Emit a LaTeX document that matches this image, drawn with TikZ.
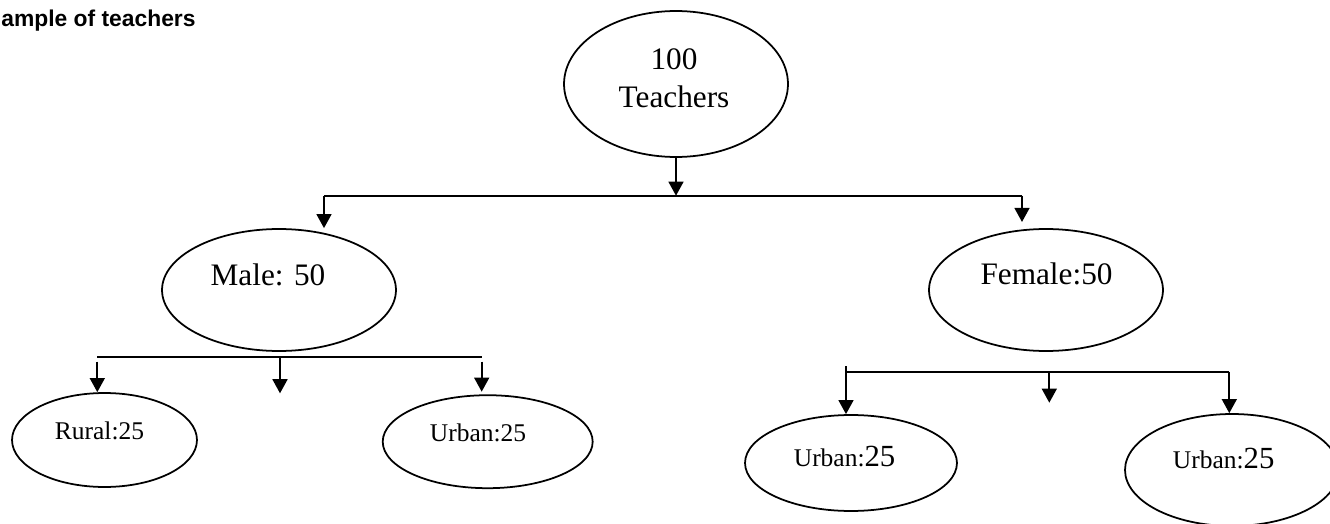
\documentclass[tikz,border=0pt]{standalone}
\usepackage{fontspec}
\setmainfont{Liberation Serif}
\newfontfamily\headfont{Liberation Sans}
\usetikzlibrary{shapes.geometric,arrows.meta}

\begin{document}
\begin{tikzpicture}[x=0.02cm,y=-0.02cm,
        oval/.style 2 args={draw,ellipse,line width=1pt,inner sep=0pt,minimum width=#1,minimum height=#2},
        arr/.style={line width=1pt,-{Triangle[width=8.5pt,length=8pt]}},
        bus/.style={line width=1pt},
        big/.style={font=\fontsize{17.8}{21.6}\selectfont},
        small/.style={font=\fontsize{14.5}{17}\selectfont}]
        \clip (0,0) rectangle (1330,524);

        % Caption (cut at the left edge)
        \node[anchor=base west,inner sep=0pt,font=\headfont\bfseries\fontsize{13}{15}\selectfont] (caption) at (1,26.7) {ample of teachers};

        % Top level
        \node[oval={4.48cm}{2.92cm},label={[big,align=center,shift={(-2,-5.3)}]center:{100\\Teachers}}] (root) at (676,84) {};

        % Second level
        \node[oval={4.68cm}{2.44cm},label={[big,shift={(-11,-15)}]center:{Male: 50}}] (male) at (279,290) {};
        \node[oval={4.68cm}{2.44cm},label={[big,shift={(0.5,-15.7)}]center:{Female:50}}] (female) at (1046,290) {};

        % Third level
        \node[oval={3.7cm}{1.88cm},label={[small,shift={(-5,-9.4)}]center:{Rural:25}}] (rural) at (104.5,440) {};
        \node[oval={4.2cm}{1.86cm},label={[small,shift={(-9.7,-8.7)}]center:{Urban:25}}] (urbanma) at (487.7,441.7) {};
        \node[oval={4.24cm}{1.92cm},label={[small,shift={(-6.4,-6.7)}]center:{Urban:{\fontsize{17.5}{20}\selectfont 25}}}] (urbanfa) at (851,463) {};
        \node[oval={4.28cm}{2.24cm},label={[small,shift={(-8.3,-11.1)}]center:{Urban:{\fontsize{17.5}{20}\selectfont 25}}}] (urbanfb) at (1232,470) {};

        % Bus under the top node
        \coordinate (top) at (676,195.7);
        \coordinate (tl) at (324,195.7);
        \coordinate (tr) at (1022,195.7);
        \draw[arr] (root.south) -- (top);
        \draw[bus] (tl) -- (tr);
        \draw[arr] (tl) -- (tl |- male.north);
        \draw[arr,shorten >=3.5pt] (tr) -- (tr |- female.north);

        % Bus under Male
        \coordinate (ml) at (97.3,356.7);
        \coordinate (mm) at (280,356.7);
        \coordinate (mr) at (481.7,356.7);
        \coordinate (mmend) at (280,393.3);
        \draw[bus] (ml) -- (mr);
        \draw[arr,shorten <=2.8pt] (ml) -- (ml |- rural.north);
        \draw[arr] (mm) -- (mmend);
        \draw[arr,shorten <=2.8pt,shorten >=1.5pt] (mr) -- (mr |- urbanma.north);

        % Bus under Female
        \coordinate (fl) at (846,371.7);
        \coordinate (fm) at (1049.3,371.7);
        \coordinate (fr) at (1229.3,371.7);
        \coordinate (fmend) at (1049.3,402.7);
        \draw[bus] (fl) -- (fr);
        \draw[arr,shorten <=-3.2pt] (fl) -- (fl |- urbanfa.north);
        \draw[arr] (fm) -- (fmend);
        \draw[arr] (fr) -- (fr |- urbanfb.north);
\end{tikzpicture}
\end{document}
